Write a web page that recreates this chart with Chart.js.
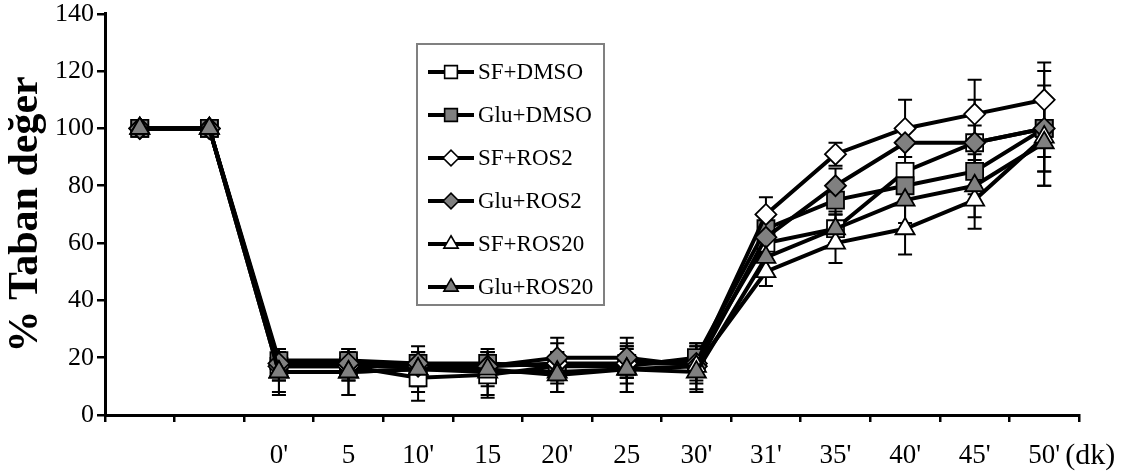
<!DOCTYPE html>
<html lang="tr">
<head>
<meta charset="UTF-8">
<title>% Taban değer</title>
<script src="https://cdn.jsdelivr.net/npm/chart.js"></script>
<style>
  html, body { margin: 0; padding: 0; background: #fff; }
  .wrap { width: 1130px; height: 475px; position: relative; }
</style>
</head>
<body>
<div class="wrap"><canvas id="chart"></canvas></div>
<script>
// zaman noktalari (ilk iki nokta: bazal olcum)
const timeLabels = ['', '', "0'", '5', "10'", '15', "20'", '25', "30'", "31'", "35'", "40'", "45'", "50'"];
const seriesNames = ['SF+DMSO', 'Glu+DMSO', 'SF+ROS2', 'Glu+ROS2', 'SF+ROS20', 'Glu+ROS20'];

// ortalama degerler (%)
const sfDmso   = [100, 100, 17, 17, 13, 14, 17, 18, 19, 60, 65, 85, 95, 100];
const gluDmso  = [100, 100, 19, 19, 18, 18, 17, 17, 20, 65, 75, 80, 85, 100];
const sfRos2   = [100, 100, 17, 17, 17, 17, 18, 18, 18, 70, 91, 100, 105, 110];
const gluRos2  = [100, 100, 18, 18, 18, 17, 20, 20, 17, 62, 80, 95, 95, 100];
const sfRos20  = [100, 100, 15, 15, 16, 15, 15, 16, 17, 50, 60, 65, 75, 97];
const gluRos20 = [100, 100, 15, 15, 16, 16, 14, 16, 15, 55, 65, 75, 80, 95];

// standart hata
const sfDmsoErr   = [0, 0, 5, 5, 8, 8, 5, 5, 5, 6, 5, 5, 6, 15];
const gluDmsoErr  = [0, 0, 4, 4, 4, 4, 4, 4, 4, 5, 5, 6, 8, 20];
const sfRos2Err   = [0, 0, 5, 5, 5, 5, 7, 7, 7, 6, 4, 10, 12, 13];
const gluRos2Err  = [0, 0, 4, 4, 4, 4, 7, 7, 5, 6, 6, 5, 15, 10];
const sfRos20Err  = [0, 0, 7, 8, 8, 8, 7, 8, 8, 5, 7, 9, 10, 12];
const gluRos20Err = [0, 0, 8, 8, 6, 6, 6, 8, 7, 6, 6, 8, 11, 15];

const yMin = 0, yMax = 140, yStep = 20;

const SERIF = '"Liberation Serif", "Times New Roman", serif';
const GRAY = '#808080';

function makeSet(label, data, err, shape, fill, radius, order) {
  return {
    label: label,
    data: data,
    errors: err,
    order: order,
    borderColor: '#000',
    borderWidth: 4,
    tension: 0,
    pointStyle: shape,
    pointRadius: radius,
    pointHoverRadius: radius,
    pointBackgroundColor: fill,
    pointBorderColor: '#000',
    pointBorderWidth: 1.8,
    fill: false
  };
}

// order: son seri en ustte cizilsin
const datasets = [
  makeSet(seriesNames[0], sfDmso, sfDmsoErr, 'rect', '#fff', 12, 6),
  makeSet(seriesNames[1], gluDmso, gluDmsoErr, 'rect', GRAY, 12, 5),
  makeSet(seriesNames[2], sfRos2, sfRos2Err, 'rectRot', '#fff', 10.5, 4),
  makeSet(seriesNames[3], gluRos2, gluRos2Err, 'rectRot', GRAY, 10.5, 3),
  makeSet(seriesNames[4], sfRos20, sfRos20Err, 'triangle', '#fff', 11, 2),
  makeSet(seriesNames[5], gluRos20, gluRos20Err, 'triangle', GRAY, 11, 1)
];

// hata cubuklari
const errorBars = {
  id: 'errorBars',
  beforeDatasetsDraw(chart) {
    const ctx = chart.ctx;
    const xs = chart.scales.x, ys = chart.scales.y;
    ctx.save();
    ctx.strokeStyle = '#000';
    ctx.lineWidth = 2;
    chart.data.datasets.forEach(ds => {
      ds.data.forEach((v, i) => {
        const e = ds.errors[i];
        if (!e) return;
        const x = xs.getPixelForValue(i);
        const y1 = ys.getPixelForValue(v + e);
        const y2 = ys.getPixelForValue(v - e);
        ctx.beginPath();
        ctx.moveTo(x, y1); ctx.lineTo(x, y2);
        ctx.moveTo(x - 7, y1); ctx.lineTo(x + 7, y1);
        ctx.moveTo(x - 7, y2); ctx.lineTo(x + 7, y2);
        ctx.stroke();
      });
    });
    ctx.restore();
  }
};

// kutulu lejant (grafik icinde)
const boxLegend = {
  id: 'boxLegend',
  afterDraw(chart) {
    const ctx = chart.ctx;
    const left = 417, top = 44, w = 187, h = 261;
    ctx.save();
    ctx.strokeStyle = GRAY;
    ctx.lineWidth = 2;
    ctx.strokeRect(left, top, w, h);
    ctx.font = '23px ' + SERIF;
    ctx.textBaseline = 'middle';
    chart.data.datasets.forEach((ds, i) => {
      const y = top + 28 + i * 43;
      ctx.strokeStyle = '#000';
      ctx.lineWidth = 4;
      ctx.beginPath();
      ctx.moveTo(left + 11, y); ctx.lineTo(left + 57, y);
      ctx.stroke();
      ctx.lineWidth = 1.6;
      ctx.fillStyle = ds.pointBackgroundColor;
      ctx.strokeStyle = '#000';
      Chart.helpers.drawPoint(ctx, { pointStyle: ds.pointStyle, radius: ds.pointRadius * 0.75, rotation: 0, borderWidth: 1.6 }, left + 34, y);
      ctx.fillStyle = '#000';
      ctx.fillText(ds.label, left + 61, y + 1);
    });
    ctx.restore();
  }
};

// x ekseni birimi
const unitLabel = {
  id: 'unitLabel',
  afterDraw(chart) {
    const ctx = chart.ctx;
    const xs = chart.scales.x;
    const last = xs.getPixelForValue(timeLabels.length - 1);
    ctx.save();
    ctx.font = '30px ' + SERIF;
    ctx.fillStyle = '#000';
    ctx.textAlign = 'left';
    ctx.textBaseline = 'middle';
    ctx.fillText('(dk)', last + 21, 456);
    ctx.restore();
  }
};

new Chart(document.getElementById('chart'), {
  type: 'line',
  data: { labels: timeLabels, datasets: datasets },
  options: {
    responsive: true,
    maintainAspectRatio: false,
    animation: false,
    layout: { padding: { top: 10, right: 51, left: 0, bottom: 0 } },
    plugins: {
      legend: { display: false },
      tooltip: { enabled: false }
    },
    scales: {
      x: {
        offset: true,
        grid: { offset: true, drawOnChartArea: false, drawTicks: true, tickLength: 7, color: '#000', lineWidth: 2.5 },
        border: { display: true, color: '#000', width: 3 },
        ticks: { font: { family: SERIF, size: 27 }, color: '#000', padding: 18, maxRotation: 0, autoSkip: false },
        afterFit(scale) { scale.height = 60; }
      },
      y: {
        min: yMin,
        max: yMax,
        ticks: { stepSize: yStep, font: { family: SERIF, size: 26 }, color: '#000', padding: 3 },
        grid: { drawOnChartArea: false, drawTicks: true, tickLength: 8, color: '#000', lineWidth: 2.5 },
        border: { display: true, color: '#000', width: 3 },
        title: { display: true, text: '% Taban değer', font: { family: SERIF, size: 42, weight: 'bold' }, color: '#000', padding: { top: 1, bottom: 0 } },
        afterFit(scale) {
          scale.width = 105;
          scale.paddingTop = 0;
          scale.paddingBottom = 0;
        }
      }
    }
  },
  plugins: [errorBars, boxLegend, unitLabel]
});
</script>
</body>
</html>
